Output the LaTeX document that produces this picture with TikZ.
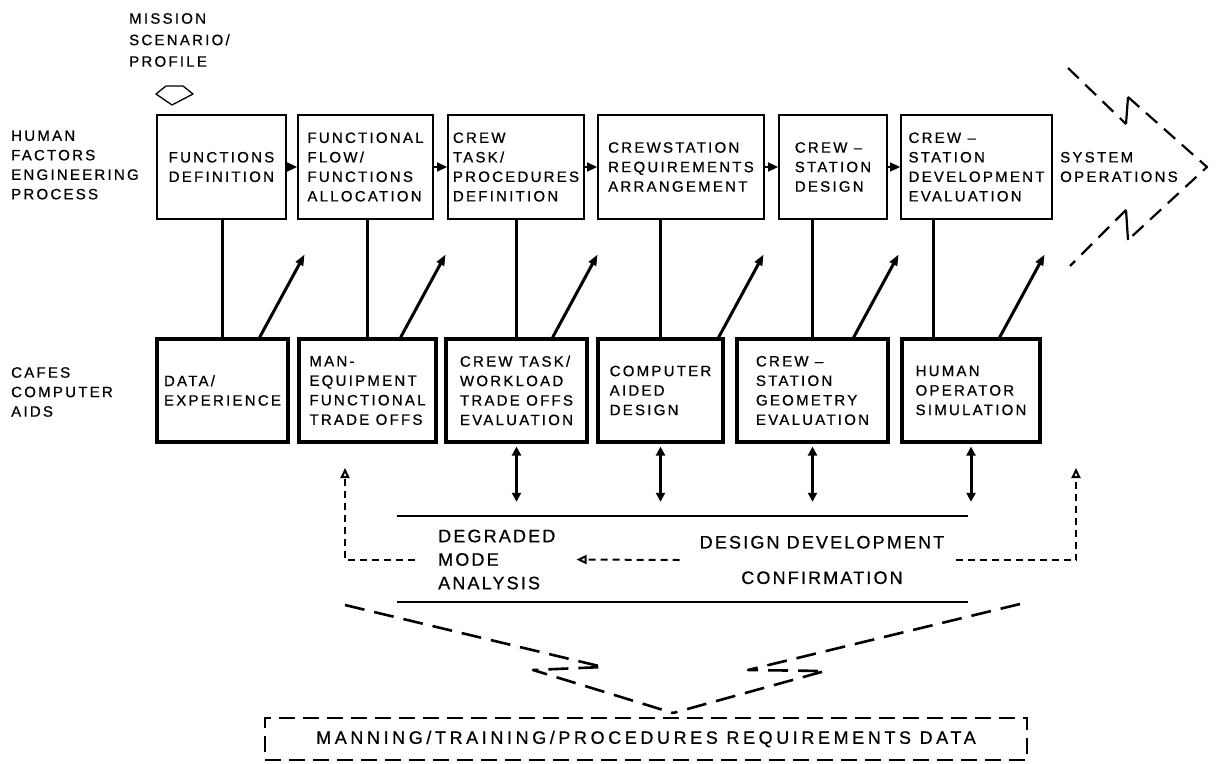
\documentclass[tikz,border=0pt]{standalone}
\usepackage{fontspec}
\newfontfamily\hffamily{Liberation Sans}[LetterSpace=15,FakeBold=0.7]
\newfontfamily\bandfamily{Liberation Sans}[LetterSpace=12,FakeBold=0.7]
\newfontfamily\reqfamily{Liberation Sans}[LetterSpace=20,FakeBold=0.7]
\newcommand\procfont{\hffamily\fontsize{15}{19.5}\selectfont}
\newcommand\bandfont{\bandfamily\fontsize{18}{23.5}\selectfont}
\newcommand\reqfont{\reqfamily\fontsize{18}{23.5}\selectfont}
\usetikzlibrary{arrows.meta,positioning,calc}

\tikzset{
  hfbox/.style={draw,line width=1.8pt,inner sep=0pt,minimum height=104pt,align=left,font=\procfont},
  aidbox/.style={draw,line width=3.2pt,inner sep=0pt,minimum height=103pt,align=left,font=\procfont},
  sidelabel/.style={font=\procfont,align=left,inner sep=0pt,anchor=west},
  flowtip/.style={-{Triangle[length=10pt,width=9pt]},line width=1.5pt},
  riser/.style={line width=3pt},
  feed/.style={-{Triangle[length=11pt,width=8pt]},line width=3pt},
  dblarrow/.style={{Triangle[length=9pt,width=9pt]}-{Triangle[length=9pt,width=9pt]},line width=3pt},
  fback/.style={dash pattern=on 7pt off 5pt,line width=2pt,-{Triangle[open,length=10pt,width=9pt]}},
  brk/.style={dash pattern=on 15pt off 9pt,line width=2.2pt,line join=round},
  vbrk/.style={dash pattern=on 20pt off 10pt,line width=2.6pt,line join=round}
}

\begin{document}
\begin{tikzpicture}[x=1pt,y=-1pt]
\useasboundingbox (0,0) rectangle (1217,763);

% input
\node[sidelabel] (msp) at (129,40) {MISSION\\[2pt]SCENARIO/\\[2pt]PROFILE};
\draw[line width=1.3pt,line join=round] (156,94) -- (166,86) -- (183,86) -- (193,94) -- (172,105) -- cycle;

% human factors engineering process
\node[sidelabel] (hfep) at (11,165) {HUMAN\\FACTORS\\ENGINEERING\\PROCESS};
\node[hfbox,minimum width=129pt] (fd) at (221.5,167) {FUNCTIONS\\DEFINITION};
\node[hfbox,minimum width=135pt] (ffa) at (365.5,167) {FUNCTIONAL\\FLOW/\\FUNCTIONS\\ALLOCATION};
\node[hfbox,minimum width=136pt] (ctp) at (516,167) {CREW\\TASK/\\PROCEDURES\\DEFINITION};
\node[hfbox,minimum width=166pt] (cra) at (681,167) {CREWSTATION\\REQUIREMENTS\\ARRANGEMENT};
\node[hfbox,minimum width=108pt] (csd) at (833,167) {CREW –\\STATION\\DESIGN};
\node[hfbox,minimum width=151pt] (csde) at (976.5,167) {CREW –\\STATION\\DEVELOPMENT\\EVALUATION};
\node[sidelabel] (sysop) at (1060,167) {SYSTEM\\OPERATIONS};

\foreach \a/\b in {fd/ffa,ffa/ctp,ctp/cra,cra/csd,csd/csde}
  \draw[flowtip] (\a) -- (\b);

% system operations
\draw[brk] (1068,68) -- (1126,124);
\draw[brk] (1128,97) -- (1207,167) -- (1128,240);
\draw[brk] (1126,210) -- (1070,266);
\draw[line width=2.2pt] (1126,124) -- (1128,97) (1126,210) -- (1128,240);

% cafes computer aids
\node[sidelabel] (cca) at (11,392) {CAFES\\COMPUTER\\AIDS};
\node[aidbox,minimum width=131pt] (de) at (222.5,390.5) {DATA/\\EXPERIENCE};
\node[aidbox,minimum width=137pt] (met) at (367.5,390.5) {MAN-\\EQUIPMENT\\FUNCTIONAL\\TRADE OFFS};
\node[aidbox,minimum width=141pt] (cwt) at (516.5,390.5) {CREW TASK/\\WORKLOAD\\TRADE OFFS\\EVALUATION};
\node[aidbox,minimum width=125pt] (cad) at (660.5,390.5) {COMPUTER\\AIDED\\DESIGN};
\node[aidbox,minimum width=151pt] (cge) at (812.5,390.5) {CREW –\\STATION\\GEOMETRY\\EVALUATION};
\node[aidbox,minimum width=138pt] (hos) at (971,390.5) {HUMAN\\OPERATOR\\SIMULATION};

\foreach \a/\b in {de/fd,met/ffa,cwt/ctp,cad/cra,cge/csd}
  \draw[riser] (\a.north) -- (\a.north |- \b.south);
\draw[riser] ([xshift=-38pt]hos.north) -- ([xshift=-38pt]hos.north |- csde.south);

\foreach \b/\d in {de/30,met/37,cwt/36,cad/6,cge/36,hos/42}{
  \coordinate (\b-s) at ([xshift=-\d pt]\b.north east);
  \coordinate (\b-t) at ($(\b-s)+(45,-83)$);
  \draw[feed] (\b-s) -- (\b-t);
}

% design development band
\node[minimum width=571pt,minimum height=86pt,inner sep=0pt] (band) at (682.5,559) {};
\draw[line width=2pt] (band.north west) -- (band.north east)
  (band.south west) -- (band.south east);
\node[font=\bandfont,align=left,inner sep=0pt,anchor=west] (dma) at (438,559.5) {DEGRADED\\MODE\\ANALYSIS};
\node[font=\bandfont,align=center,inner sep=0pt] (ddc) at (822,560) {DESIGN DEVELOPMENT\\[12pt]CONFIRMATION};

\foreach \b in {cwt,cad,cge,hos}
  \draw[dblarrow,shorten <=3pt,shorten >=14pt] (\b.south) -- (\b.south |- band.north);

\coordinate (ltip) at (345,468);
\coordinate (rtip) at (1076,468);
\draw[fback] ([xshift=-20pt]ddc.west) -- ([xshift=21pt]dma.east);
\draw[fback] ([xshift=-23pt]dma.west) -| (ltip);
\draw[fback] ([xshift=11pt]ddc.east) -| (rtip);

% requirements data
\node[draw,dash pattern=on 16pt off 8pt,line width=2.6pt,minimum width=762pt,minimum height=42pt,inner sep=0pt,font=\reqfont] (mtp) at (646,739) {MANNING/TRAINING/PROCEDURES REQUIREMENTS DATA};
\coordinate (vb) at (673,713);
\draw[vbrk] (345,605) -- (603,667) -- (533,670) -- (vb);
\draw[vbrk] (1020,604) -- (748,670) -- (825,671) -- (vb);

\end{tikzpicture}
\end{document}
